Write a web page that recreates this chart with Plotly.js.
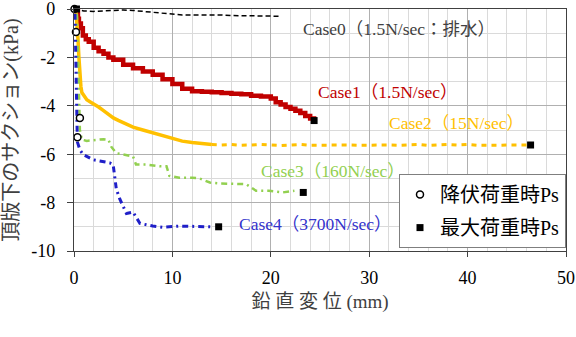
<!DOCTYPE html>
<html>
<head>
<meta charset="utf-8">
<script src="https://cdn.plot.ly/plotly-3.0.1.min.js"></script>
<style>html,body{margin:0;padding:0;background:#fff;}#chart{width:576px;height:337px;}</style>
</head>
<body>
<div id="chart"></div>
<script>
// Case0 (1.5N/sec : drained)
const case0X = [0, 0.5, 1, 2, 3, 4, 5, 6, 7, 8, 9, 10, 11, 12, 13, 14, 15, 16, 17, 18, 19, 20, 21];
const case0Y = [0, -0.05, -0.08, -0.1, -0.08, -0.05, -0.04, -0.06, -0.1, -0.14, -0.18, -0.22, -0.25, -0.25, -0.24, -0.24, -0.25, -0.27, -0.28, -0.3, -0.3, -0.3, -0.3];
// Case1 (1.5N/sec)
const case1X = [0.3, 0.4, 0.5, 0.7, 0.9, 1.2, 1.5, 2.0, 2.5, 3.0, 3.5, 4.0, 5.0, 6.0, 7.0, 8.0, 9.0, 10.0, 11.0, 12.0, 13.0, 14.0, 15.0, 16.0, 17.0, 18.0, 19.0, 20.0, 20.5, 21.0, 21.5, 22.0, 22.5, 23.0, 23.5, 24.0, 24.4];
const case1Y = [-0.1, -0.4, -0.6, -0.8, -1.1, -1.25, -1.35, -1.6, -1.75, -1.85, -2.0, -2.1, -2.3, -2.45, -2.58, -2.72, -2.9, -3.1, -3.3, -3.4, -3.42, -3.44, -3.47, -3.5, -3.52, -3.58, -3.62, -3.7, -3.85, -3.95, -4.05, -4.12, -4.2, -4.3, -4.42, -4.52, -4.6];
// Case2 (15N/sec) dense part and sparse part
const case2X = [0.2, 0.3, 0.4, 0.5, 0.6, 0.7, 0.8, 1.0, 1.3, 1.7, 2.0, 2.5, 3.0, 3.5, 4.0, 4.5, 5.0, 6.0, 7.0, 8.0, 9.0, 10.0, 11.0, 12.0, 13.0, 14.0];
const case2Y = [-0.1, -0.5, -1.2, -2.0, -2.7, -3.2, -3.45, -3.6, -3.75, -3.85, -3.92, -4.05, -4.2, -4.35, -4.5, -4.6, -4.7, -4.88, -5.0, -5.12, -5.25, -5.37, -5.46, -5.52, -5.57, -5.6];
const case2bX = [14, 15, 16, 17, 18, 19, 20, 21, 22, 23, 24, 25, 26, 27, 28, 29, 30, 31, 32, 33, 34, 35, 36, 37, 38, 39, 40, 41, 42, 43, 44, 45, 46];
const case2bY = [-5.6, -5.62, -5.6, -5.63, -5.62, -5.6, -5.62, -5.64, -5.62, -5.6, -5.63, -5.62, -5.64, -5.6, -5.62, -5.63, -5.62, -5.6, -5.62, -5.63, -5.62, -5.6, -5.64, -5.62, -5.6, -5.62, -5.6, -5.63, -5.64, -5.63, -5.62, -5.61, -5.62];
// Case3 (160N/sec)
const case3X = [0.3, 0.4, 0.5, 0.55, 0.6, 0.8, 1.3, 2.0, 3.0, 3.5, 3.8, 4.3, 5.0, 6.0, 6.3, 7.4, 8.7, 9.4, 9.7, 10.7, 12.0, 12.75, 13.8, 14.8, 16.0, 17.5, 18.5, 19.8, 21.2, 22.4];
const case3Y = [-0.2, -1.5, -3.0, -4.2, -5.0, -5.4, -5.45, -5.42, -5.38, -5.4, -5.7, -5.96, -6.02, -6.09, -6.43, -6.43, -6.5, -6.5, -6.9, -6.97, -6.97, -7.0, -7.17, -7.21, -7.22, -7.24, -7.51, -7.51, -7.58, -7.51];
// Case4 (3700N/sec)
const case4X = [0.1, 0.15, 0.2, 0.25, 0.3, 0.34, 0.6, 0.94, 1.95, 2.97, 3.64, 3.98, 4.15, 4.3, 4.65, 5.16, 5.33, 6.0, 6.7, 8.0, 9.0, 10.7, 12.75, 14.0];
const case4Y = [-0.2, -1.5, -3.0, -4.2, -5.0, -5.49, -5.82, -6.02, -6.23, -6.3, -6.36, -6.43, -6.97, -7.44, -7.85, -8.25, -8.45, -8.39, -8.86, -8.97, -9.02, -8.97, -9.0, -9.0];
// Yield-load Ps points and max-load Ps points
const yieldX = [0.05, 0.2, 0.6, 0.35];
const yieldY = [0, -0.95, -4.5, -5.3];
const maxX = [0.25, 24.4, 46.4, 23.3, 14.7];
const maxY = [0, -4.61, -5.62, -7.58, -9.0];
// Labels
const caseLabels = ["Case0（1.5N/sec：排水）", "Case1（1.5N/sec）", "Case2（15N/sec）", "Case3（160N/sec）", "Case4（3700N/sec）"];
const labelX = [23.1, 24.6, 31.8, 18.8, 16.6];
const labelY = [-0.83, -3.42, -4.72, -6.7, -8.89];
const labelColors = ["#404040", "#C00000", "#FFC000", "#92D050", "#3333CC"];
const xTickVals = [0, 10, 20, 30, 40, 50];
const xTickText = ["0", "10", "20", "30", "40", "50"];
const yTickVals = [0, -2, -4, -6, -8, -10];
const yTickText = ["0", "-2", "-4", "-6", "-8", "-10"];
const xTitle = "鉛 直 変 位 (mm)";
const yTitle = "頂版下のサクション(kPa)";
const legendNames = ["降伏荷重時Ps", "最大荷重時Ps"];

const FONT = "'Liberation Serif', 'Times New Roman', 'Noto Sans CJK JP', serif";

const traces = [
  {x: case0X, y: case0Y, mode: 'lines', line: {color: '#000', width: 1.5, dash: '5px,3px'}, showlegend: false, hoverinfo: 'skip'},
  {x: case1X, y: case1Y, mode: 'lines', line: {color: '#C00000', width: 4.5, shape: 'hv'}, showlegend: false, hoverinfo: 'skip'},
  {x: case2X, y: case2Y, mode: 'lines', line: {color: '#FFC000', width: 3.5}, showlegend: false, hoverinfo: 'skip'},
  {x: case2bX, y: case2bY, mode: 'lines', line: {color: '#FFC000', width: 3, dash: '5px,5px'}, showlegend: false, hoverinfo: 'skip'},
  {x: case3X, y: case3Y, mode: 'lines', line: {color: '#92D050', width: 2.5, dash: '6px,4px,2px,4px'}, showlegend: false, hoverinfo: 'skip'},
  {x: case4X, y: case4Y, mode: 'lines', line: {color: '#1F1FC8', width: 3, dash: '6px,4px,2px,4px'}, showlegend: false, hoverinfo: 'skip'},
  {x: yieldX, y: yieldY, mode: 'markers', name: legendNames[0], legendgroup: 'a', cliponaxis: false,
   marker: {symbol: 'circle', size: 7, color: '#fff', line: {color: '#000', width: 1.5}}},
  {x: maxX, y: maxY, mode: 'markers', name: legendNames[1], legendgroup: 'b', cliponaxis: false,
   marker: {symbol: 'square', size: 7, color: '#000', line: {color: '#000', width: 0}}}
];

const annotations = caseLabels.map((t, i) => ({
  x: labelX[i], y: labelY[i], xref: 'x', yref: 'y', text: t, showarrow: false,
  xanchor: 'left', yanchor: 'middle', font: {family: FONT, size: 17.5, color: labelColors[i]}
}));

const layout = {
  width: 576, height: 337,
  margin: {l: 74, r: 10, t: 9, b: 86},
  paper_bgcolor: '#fff', plot_bgcolor: '#fff',
  font: {family: FONT, color: '#000'},
  showlegend: true,
  legend: {x: 1, xanchor: 'right', y: 0.012, yanchor: 'bottom', bgcolor: '#fff',
    bordercolor: '#7f7f7f', borderwidth: 1, font: {family: FONT, size: 20, color: '#000'},
    traceorder: 'grouped', tracegroupgap: 4},
  xaxis: {
    range: [0, 50], tickmode: 'array', tickvals: xTickVals, ticktext: xTickText,
    showgrid: true, gridcolor: '#B0B0B0', gridwidth: 1,
    minor: {dtick: 2, tick0: 0, showgrid: true, gridcolor: '#DADADA', gridwidth: 1},
    showline: true, linecolor: '#404040', linewidth: 1.2, mirror: true,
    ticks: 'outside', ticklen: 5, tickcolor: '#404040', ticklabelstandoff: 5, ticklabeloverflow: 'allow',
    tickfont: {family: FONT, size: 18, color: '#000'}, zeroline: false,
    title: {text: xTitle, standoff: 8, font: {family: FONT, size: 19, color: '#404040'}}
  },
  yaxis: {
    range: [-10, 0], tickmode: 'array', tickvals: yTickVals, ticktext: yTickText,
    showgrid: true, gridcolor: '#B0B0B0', gridwidth: 1,
    minor: {dtick: 1, tick0: 0, showgrid: true, gridcolor: '#DADADA', gridwidth: 1},
    showline: true, linecolor: '#404040', linewidth: 1.2, mirror: true,
    ticks: 'outside', ticklen: 6, tickcolor: '#404040', ticklabelstandoff: 8, ticklabeloverflow: 'allow',
    tickfont: {family: FONT, size: 18, color: '#000'}, zeroline: false,
    title: {text: yTitle, standoff: 8, font: {family: FONT, size: 20, color: '#404040'}}
  },
  annotations: annotations
};

Plotly.newPlot('chart', traces, layout, {staticPlot: true, displayModeBar: false});
</script>
</body>
</html>
